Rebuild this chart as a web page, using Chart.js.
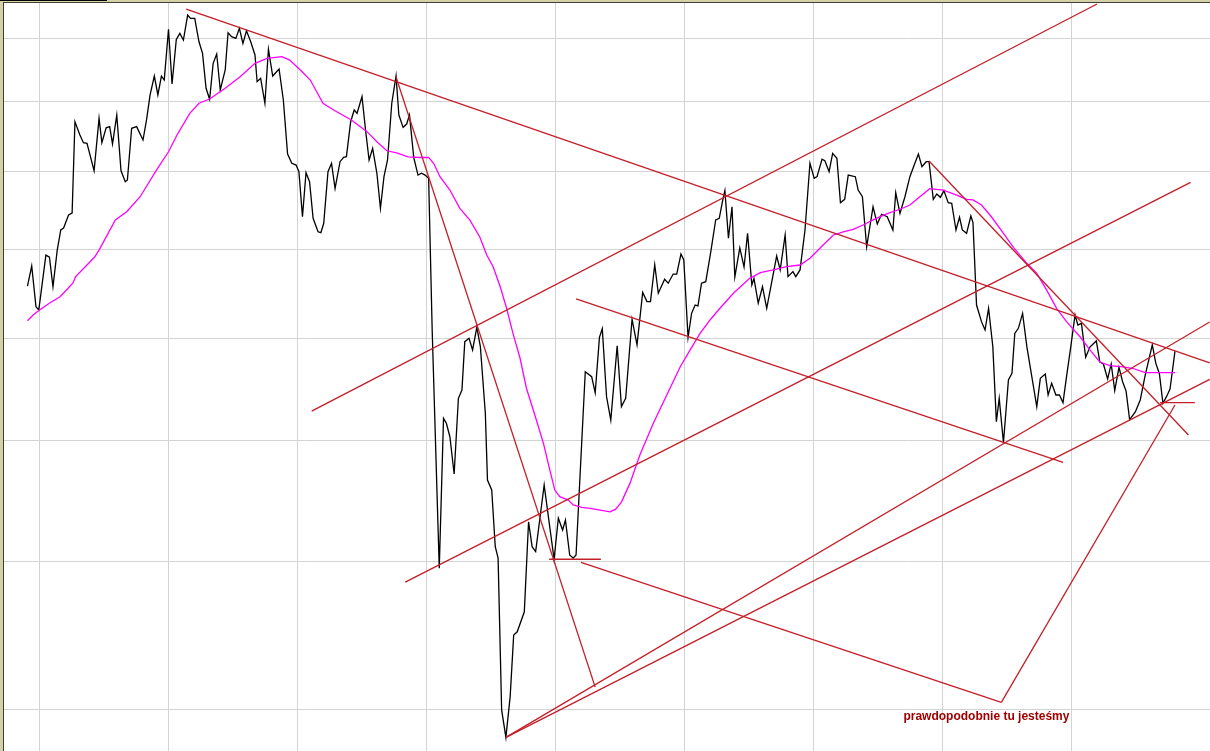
<!DOCTYPE html>
<html>
<head>
<meta charset="utf-8">
<title>wykres</title>
<script src="https://cdn.jsdelivr.net/npm/chart.js@4.4.1/dist/chart.umd.min.js"></script>
<style>
  html, body { margin: 0; padding: 0; background: #fff; }
  #frame { position: relative; width: 1210px; height: 751px; background: #d4d0a8; overflow: hidden; }
  #tab { position: absolute; left: 0; top: 0; width: 107px; height: 1px; background: #000; }
  #plot {
    position: absolute; left: 3px; top: 2px; width: 1207px; height: 749px;
    box-sizing: border-box; background: #fff;
    border-top: 1px solid #404038; border-left: 1px solid #404038;
  }
  canvas { display: block; }
</style>
</head>
<body>
<div id="frame">
  <div id="tab"></div>
  <div id="plot"><canvas id="myChart" width="1206" height="748"></canvas></div>
</div>
<script>
// close prices, [day, value]
const closeSeries = [
  [165,3787],[171,3903],[177,3671],[181,3653],[191,3968],[196,3956],[201,3783],[207,3998],[212,4121],[216,4133],
  [223,4215],[228,4228],[232,4852],[239,4756],[244,4701],[249,4697],[259,4506],[266,4877],[270,4701],[276,4808],
  [281,4816],[285,4692],[291,4901],[297,4506],[303,4432],[306,4444],[312,4804],[319,4816],[328,4720],[333,4865],
  [338,5052],[344,5198],[349,5052],[354,5198],[358,5167],[364,5578],[369,5136],[375,5494],[380,5544],[385,5488],
  [391,5699],[395,5671],[401,5671],[407,5474],[412,5379],[417,5103],[422,5019],[427,5299],[432,5374],[437,5090],
  [444,5246],[448,5549],[453,5516],[459,5502],[464,5586],[469,5461],[474,5566],[480,5474],[486,5366],[489,5154],
  [494,5180],[500,4989],[505,5412],[511,5198],[520,5254],[526,5014],[532,4621],[538,4557],[544,4545],[548,4500],
  [553,4204],[558,4493],[563,4432],[568,4194],[575,4110],[579,4104],[583,4163],[589,4500],[594,4557],[599,4388],
  [606,4568],[611,4598],[615,4603],[621,4852],[626,4939],[630,4914],[637,5039],[642,4792],[647,4580],[652,4661],
  [658,4489],[663,4258],[668,4466],[673,4580],[679,4989],[685,5198],[689,4901],[695,4811],[700,4835],[704,4901],
  [710,4597],[716,4477],[721,4489],[726,4477],[731,4455],[736,3544],[746,2474],[752,3102],[756,3079],[761,3017],
  [767,2852],[773,3197],[778,3237],[782,3482],[788,3500],[793,3439],[799,3558],[804,3456],[811,3126],[814,2826],
  [820,2784],[825,2556],[829,2512],[834,1998],[840,1917],[846,2038],[851,2237],[856,2248],[866,2317],[872,2654],
  [877,2556],[882,2537],[894,2805],[908,2508],[914,2668],[920,2621],[924,2661],[930,2524],[935,2512],[939,2524],
  [952,3328],[961,3303],[966,3224],[972,3505],[976,3551],[982,3205],[988,3094],[997,3461],[1003,3157],[1009,3197],
  [1018,3602],[1025,3465],[1033,3751],[1039,3699],[1044,3699],[1050,3911],[1055,3746],[1064,3826],[1069,3803],[1076,3856],
  [1081,3856],[1087,3974],[1091,3939],[1097,3505],[1102,3634],[1107,3680],[1111,3675],[1116,3803],[1122,3812],[1129,3986],
  [1136,4184],[1141,4194],[1146,4312],[1149,4373],[1154,4070],[1159,4268],[1163,3839],[1170,4011],[1176,3897],[1181,4100],
  [1187,3793],[1190,3831],[1196,3690],[1202,3783],[1208,3662],[1222,3962],[1227,3880],[1234,4090],[1238,3841],[1245,3870],
  [1249,3841],[1255,3880],[1262,4121],[1269,4557],[1275,4455],[1279,4466],[1286,4585],[1290,4575],[1296,4500],[1301,4626],
  [1307,4592],[1312,4294],[1318,4316],[1323,4477],[1333,4466],[1337,4377],[1343,4333],[1349,4018],[1358,4268],[1364,4158],
  [1370,4220],[1378,4204],[1386,4121],[1390,4359],[1396,4226],[1403,4333],[1410,4466],[1417,4557],[1422,4621],[1427,4534],
  [1433,4568],[1437,4568],[1443,4316],[1448,4351],[1453,4329],[1458,4373],[1464,4294],[1469,4290],[1475,4121],[1480,4201],
  [1484,4121],[1490,4100],[1496,4209],[1499,4167],[1504,3680],[1511,3589],[1516,3544],[1521,3662],[1527,3456],[1532,3086],
  [1536,3197],[1542,2990],[1549,3287],[1554,3320],[1558,3526],[1563,3553],[1569,3634],[1575,3456],[1582,3303],[1589,3157],
  [1594,3295],[1601,3316],[1605,3213],[1610,3270],[1616,3213],[1621,3213],[1626,3176],[1631,3303],[1637,3456],[1643,3625],
  [1647,3571],[1652,3580],[1658,3401],[1664,3454],[1673,3486],[1678,3377],[1683,3367],[1689,3292],[1694,3367],[1699,3235],
  [1705,3350],[1710,3279],[1715,3232],[1720,3096],[1728,3132],[1735,3189],[1742,3311],[1752,3465],[1757,3370],[1762,3318],
  [1767,3173],[1772,3205],[1777,3242],[1784,3433]
];

// moving average (magenta)
const avgSeries = [
  [165,3594],[173,3625],[182,3653],[197,3693],[211,3726],[220,3764],[229,3803],[233,3841],[249,3909],[260,3958],
  [266,3998],[289,4184],[305,4236],[324,4333],[347,4511],[364,4637],[376,4756],[394,4914],[407,4989],[422,5021],
  [444,5103],[465,5193],[486,5299],[503,5339],[524,5352],[535,5325],[550,5246],[564,5167],[582,4989],[597,4939],
  [622,4865],[644,4780],[658,4708],[672,4644],[686,4630],[702,4601],[719,4597],[731,4598],[738,4557],[747,4466],
  [761,4377],[775,4258],[789,4184],[803,4079],[813,3968],[822,3899],[832,3783],[841,3662],[850,3526],[860,3396],
  [869,3246],[883,3094],[893,2987],[902,2869],[909,2784],[916,2756],[928,2742],[935,2722],[947,2712],[959,2708],
  [973,2701],[987,2694],[995,2705],[1003,2734],[1015,2812],[1029,2935],[1048,3079],[1067,3213],[1086,3353],[1100,3439],
  [1114,3526],[1128,3598],[1142,3662],[1161,3746],[1184,3831],[1199,3864],[1217,3880],[1236,3899],[1255,3909],[1269,3949],
  [1283,4009],[1302,4090],[1316,4110],[1330,4125],[1344,4152],[1358,4184],[1377,4222],[1396,4252],[1410,4279],[1424,4333],
  [1438,4386],[1457,4377],[1476,4344],[1490,4316],[1499,4312],[1511,4279],[1525,4204],[1542,4100],[1556,4014],
  [1575,3919],[1589,3860],[1603,3764],[1617,3662],[1631,3589],[1650,3508],[1664,3439],[1678,3377],[1692,3359],[1711,3352],
  [1725,3344],[1742,3323],[1784,3323]
];

// hand drawn lines: [startDay, startValue, endDay, endValue]
const trendLines = [
  [389,5751,1833,3372],
  [566,3136,1674,5795],
  [685,5191,966,2068],
  [698,2423,1806,4428],
  [939,3714,1626,2903],
  [840,1917,1833,3587],
  [840,1917,1833,3290],
  [1437,4573,1803,3025],
  [1539,2021,1784,3165],
  [946,2496,1539,2021],
  [901,2508,974,2508],
  [1763,3176,1812,3176]
];

// grid positions
const xGridDays = [182,364,546,728,910,1092,1274,1456,1638];
const yGridValues = [2000,2500,3000,3500,4000,4500,5000,5500];

// note under the chart
const noteText = 'prawdopodobnie tu jesteśmy';
const noteDay = 1518;
const noteValue = 1968;

const redColor = '#c41e28';

const toPoints = rows => rows.map(([d, v]) => ({ x: d, y: v }));

const datasets = [];

// trend lines first, price on top
trendLines.forEach(l => {
  datasets.push({
    data: [{ x: l[0], y: l[1] }, { x: l[2], y: l[3] }],
    borderColor: redColor,
    borderWidth: 1.3,
    pointRadius: 0
  });
});

datasets.push({
  data: toPoints(avgSeries),
  borderColor: '#ff00ff',
  borderWidth: 1.3,
  pointRadius: 0
});

datasets.push({
  data: toPoints(closeSeries),
  borderColor: '#000000',
  borderWidth: 1.3,
  pointRadius: 0
});

// text label plugin
const notePlugin = {
  id: 'note',
  afterDatasetsDraw(chart) {
    const ctx = chart.ctx;
    const x = chart.scales.x.getPixelForValue(noteDay);
    const y = chart.scales.y.getPixelForValue(noteValue);
    ctx.save();
    ctx.font = 'bold 12px "Liberation Sans", Arial, sans-serif';
    ctx.fillStyle = '#a00000';
    ctx.textAlign = 'center';
    ctx.textBaseline = 'alphabetic';
    ctx.fillText(noteText, x, y);
    ctx.restore();
  }
};

const chart = document.getElementById('myChart').getContext('2d');

new Chart(chart, {
  type: 'line',
  data: { datasets: datasets },
  plugins: [notePlugin],
  options: {
    responsive: false,
    animation: false,
    events: [],
    layout: { padding: 0 },
    elements: { line: { tension: 0 } },
    plugins: {
      legend: { display: false },
      tooltip: { enabled: false },
      title: { display: false }
    },
    scales: {
      x: {
        type: 'linear',
        min: 131.9,
        max: 1833.4,
        border: { display: false },
        grid: { color: '#d3d3d3', lineWidth: 1, drawTicks: false },
        ticks: { display: false },
        afterBuildTicks: s => { s.ticks = xGridDays.map(v => ({ value: v })); }
      },
      y: {
        type: 'logarithmic',
        min: 1878.1,
        max: 5803.5,
        border: { display: false },
        grid: { color: '#d3d3d3', lineWidth: 1, drawTicks: false },
        ticks: { display: false },
        afterBuildTicks: s => { s.ticks = yGridValues.map(v => ({ value: v })); }
      }
    }
  }
});
</script>
</body>
</html>
